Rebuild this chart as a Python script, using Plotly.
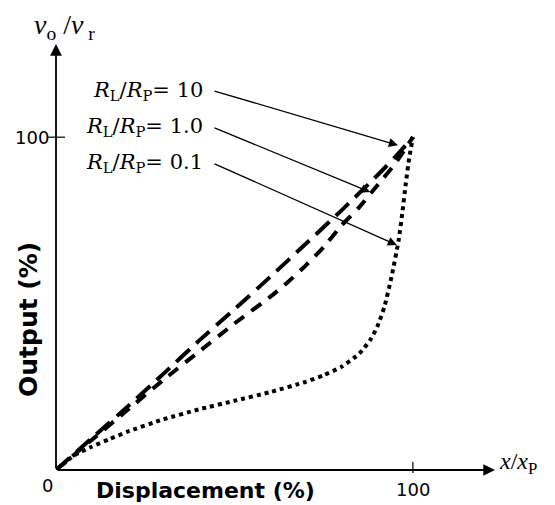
import plotly.graph_objects as go

# ---- data ----
x_r10 = [0, 10, 20, 30, 40, 50, 60, 70, 80, 90, 95, 100]
y_r10 = [0, 9.5, 19, 28.8, 38.8, 48.3, 58, 68, 78, 88.5, 94, 100]

x_r1 = [0, 10, 20, 30, 40, 50, 60, 65, 70, 75, 80, 85, 90, 95, 100]
y_r1 = [0, 9, 18, 27, 35.5, 44, 52, 56.5, 61.5, 67, 73.5, 79, 85.5, 92, 100]

x_r01 = [0, 5, 10, 15, 20, 30, 40, 50, 60, 70, 75, 80, 85, 88, 90, 92, 94, 96, 97, 98, 99, 100]
y_r01 = [0, 4.3, 7, 9.3, 11.5, 15.2, 18.2, 20.8, 23.4, 26.5, 28.5, 31, 35, 39, 43, 49, 58, 69, 77, 86, 94, 100]

labels = ["<i>R</i><sub>L</sub>/<i>R</i><sub>P</sub>= 10",
          "<i>R</i><sub>L</sub>/<i>R</i><sub>P</sub>= 1.0",
          "<i>R</i><sub>L</sub>/<i>R</i><sub>P</sub>= 0.1"]
label_y = [114, 103, 92.2]          # label heights (data units)
arrow_tips = [(95.8, 97.6), (88, 83.5), (95.5, 67.6)]

tick_vals = [100]
x_max, y_max = 123, 128

# ---- layout geometry (page has an 8px body margin) ----
OFF = 8
W, H = 555 - OFF, 505 - OFF
L, T = 56 - OFF, 44 - OFF
pw, ph = 439, 426
R, B = W - L - pw, H - T - ph

def px(xp):  # screen pixel -> paper x
    return (xp - OFF - L) / pw

def py(yp):  # screen pixel -> paper y
    return (T + ph - (yp - OFF)) / ph

fig = go.Figure()
styles = [("18px,9px", x_r10, y_r10), ("12px,9px", x_r1, y_r1), ("4px,4px", x_r01, y_r01)]
for dash, xs, ys in styles:
    fig.add_trace(go.Scatter(x=xs, y=ys, mode="lines",
                             line=dict(color="black", width=4, dash=dash, shape="spline", smoothing=0.5),
                             cliponaxis=False, showlegend=False, hoverinfo="skip"))

ann = []
# axes as arrows
ann.append(dict(x=x_max, y=0, ax=0, ay=0, xref="x", yref="y", axref="x", ayref="y", text="",
                showarrow=True, arrowhead=2, arrowsize=1.3, arrowwidth=1.8, arrowcolor="black", standoff=0))
ann.append(dict(x=0, y=y_max, ax=0, ay=0, xref="x", yref="y", axref="x", ayref="y", text="",
                showarrow=True, arrowhead=2, arrowsize=1.3, arrowwidth=1.8, arrowcolor="black", standoff=0))

serif = "DejaVu Serif"
for lab, ly, (tx, ty) in zip(labels, label_y, arrow_tips):
    ann.append(dict(x=41.8, y=ly, xref="x", yref="y", text=lab, showarrow=False, xanchor="right",
                    yanchor="middle", font=dict(family=serif, size=21, color="black")))
    ann.append(dict(x=tx, y=ty, ax=44.0, ay=ly, xref="x", yref="y", axref="x", ayref="y", text="",
                    showarrow=True, arrowhead=2, arrowsize=1.4, arrowwidth=1.3, arrowcolor="black", standoff=0))

def note(x, y, text, size, family, xanchor="center", angle=0):
    return dict(x=x, y=y, xref="paper", yref="paper", text=text, showarrow=False,
                xanchor=xanchor, yanchor="middle", textangle=angle,
                font=dict(family=family, size=size, color="black"))

# axis titles / tick labels
ann.append(note(px(64), py(26), "<i>v</i><sub>o</sub> /<i>v</i><sub> r</sub>", 28, "Liberation Serif"))
ann.append(note(px(497), py(463), "<i>x</i>/<i>x</i><sub>P</sub>", 24, "Liberation Serif", xanchor="left"))
ann.append(note(px(28), py(320), "<b>Output (%)</b>", 25, "DejaVu Sans", angle=-90))
ann.append(note(px(205), py(490), "<b>Displacement (%)</b>", 22, "DejaVu Sans"))
ann.append(note(px(47), py(485), "0", 18, "DejaVu Sans"))
for tv in tick_vals:
    a = note(0, py(489), str(tv), 18, "DejaVu Sans")
    a.update(x=tv, xref="x")
    ann.append(a)
    b = note(px(51), 0, str(tv), 18, "DejaVu Sans", xanchor="right")
    b.update(y=tv, yref="y")
    ann.append(b)

shapes = []
for tv in tick_vals:
    shapes.append(dict(type="line", xref="x", yref="paper", x0=tv, x1=tv, y0=py(473), y1=py(462),
                       line=dict(color="black", width=1.2)))
    shapes.append(dict(type="line", xref="paper", yref="y", x0=px(48), x1=px(65), y0=tv, y1=tv,
                       line=dict(color="black", width=1.2)))

fig.update_layout(
    width=W, height=H, margin=dict(l=L, r=R, t=T, b=B),
    paper_bgcolor="white", plot_bgcolor="white",
    xaxis=dict(range=[0, x_max], visible=False, fixedrange=True),
    yaxis=dict(range=[0, y_max], visible=False, fixedrange=True),
    annotations=ann, shapes=shapes, showlegend=False,
)
fig.write_html("out.html")
